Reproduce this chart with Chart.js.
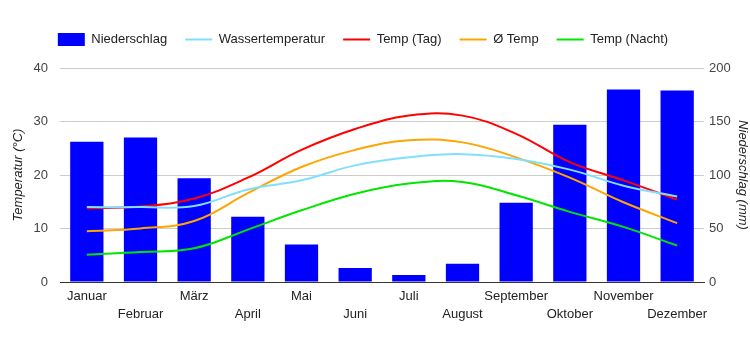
<!DOCTYPE html>
<html>
<head>
<meta charset="utf-8">
<script src="https://cdn.jsdelivr.net/npm/chart.js@4"></script>
<style>
  body { margin: 0; background: #fff; }
  #wrap { width: 750px; height: 350px; }
</style>
</head>
<body>
<div id="wrap"><canvas id="klima-chart"></canvas></div>
<script>
var monate = ["Januar", "Februar", "März", "April", "Mai", "Juni",
              "Juli", "August", "September", "Oktober", "November", "Dezember"];
var niederschlag = [131, 135, 97, 61, 35, 13, 6.5, 17, 74, 147, 180, 179];
var wassertemp = [14, 14, 14.2, 17.3, 19, 21.8, 23.3, 23.9, 23, 21, 18, 16];
var tempTag = [13.8, 14.1, 15.6, 19.5, 24.7, 28.6, 31.1, 31.1, 27.7, 22.4, 19, 15.4];
var tempMittel = [9.5, 10, 11.4, 16.6, 21.5, 24.7, 26.5, 26.1, 23.3, 19.5, 14.9, 11];
var tempNacht = [5.1, 5.6, 6.3, 9.8, 13.4, 16.5, 18.4, 18.7, 16.2, 13.1, 10.3, 6.8];
var tempTicks = [0, 10, 20, 30, 40];
var mmTicks = [0, 50, 100, 150, 200];

Chart.defaults.font.family = "'Liberation Sans', Arial, sans-serif";
Chart.defaults.font.size = 13;
Chart.defaults.color = "#222";

function linie(label, data, farbe) {
  return {
    type: "line",
    label: label,
    data: data,
    borderColor: farbe,
    backgroundColor: farbe,
    borderWidth: 2,
    pointRadius: 0,
    pointHoverRadius: 0,
    pointStyle: "line",
    tension: 0.4,
    yAxisID: "y",
    order: 0
  };
}

// extra space below the legend, and legend nudged a bit to the left
var legendAbstand = {
  id: "legendAbstand",
  beforeLayout: function (chart) {
    var lg = chart.legend;
    if (lg && !lg._abstand) {
      var fit = lg.fit;
      lg.fit = function () {
        fit.call(this);
        this.height += 12;
      };
      lg._abstand = true;
    }
  },
  afterLayout: function (chart) {
    var lg = chart.legend;
    if (lg) {
      lg.left -= 12;
      lg.right -= 12;
    }
  }
};

var ctx = document.getElementById("klima-chart");

var chart = new Chart(ctx, {
  type: "bar",
  data: {
    labels: monate,
    datasets: [
      {
        label: "Niederschlag",
        data: niederschlag,
        backgroundColor: "#0000ff",
        borderWidth: 0,
        pointStyle: "rect",
        barPercentage: 0.62,
        categoryPercentage: 1,
        yAxisID: "y1",
        order: 1
      },
      linie("Wassertemperatur", wassertemp, "#80dfff"),
      linie("Temp (Tag)", tempTag, "#ff0000"),
      linie("Ø Temp", tempMittel, "#ffa500"),
      linie("Temp (Nacht)", tempNacht, "#00e600")
    ]
  },
  plugins: [legendAbstand],
  options: {
    responsive: true,
    maintainAspectRatio: false,
    animation: false,
    layout: { padding: { top: 15, left: 0, right: 0, bottom: 0 } },
    plugins: {
      tooltip: { enabled: false },
      legend: {
        position: "top",
        labels: {
          usePointStyle: true,
          pointStyleWidth: 27,
          boxHeight: 13,
          padding: 18,
          color: "#222",
          sort: function (a, b) { return a.datasetIndex - b.datasetIndex; }
        }
      }
    },
    scales: {
      x: {
        grid: { display: false, drawTicks: false },
        border: { display: true, color: "#333", width: 1 },
        ticks: {
          color: "#222",
          maxRotation: 0,
          autoSkip: false,
          padding: 6,
          font: { lineHeight: 1.33 },
          callback: function (value, index) {
            return index % 2 === 0 ? [monate[index], ""] : ["", monate[index]];
          }
        },
        afterFit: function (scale) { scale.height = 68; }
      },
      y: {
        position: "left",
        min: 0,
        max: 40,
        afterBuildTicks: function (scale) {
          scale.ticks = tempTicks.map(function (v) { return { value: v }; });
        },
        grid: { color: "#cccccc", drawTicks: false },
        border: { display: false },
        ticks: { color: "#444", padding: 12 },
        title: {
          display: true,
          text: "Temperatur (°C)",
          color: "#222",
          font: { style: "italic", size: 13 },
          padding: { top: 11, bottom: 0 }
        },
        afterFit: function (scale) { scale.width = 60; }
      },
      y1: {
        position: "right",
        min: 0,
        max: 200,
        afterBuildTicks: function (scale) {
          scale.ticks = mmTicks.map(function (v) { return { value: v }; });
        },
        grid: { drawOnChartArea: false, drawTicks: false },
        border: { display: false },
        ticks: { color: "#444", padding: 5 },
        title: {
          display: true,
          text: "Niederschlag (mm)",
          color: "#222",
          font: { style: "italic", size: 13 },
          padding: { top: 0, bottom: 0 }
        },
        afterFit: function (scale) { scale.width = 46; }
      }
    }
  }
});
</script>
</body>
</html>
